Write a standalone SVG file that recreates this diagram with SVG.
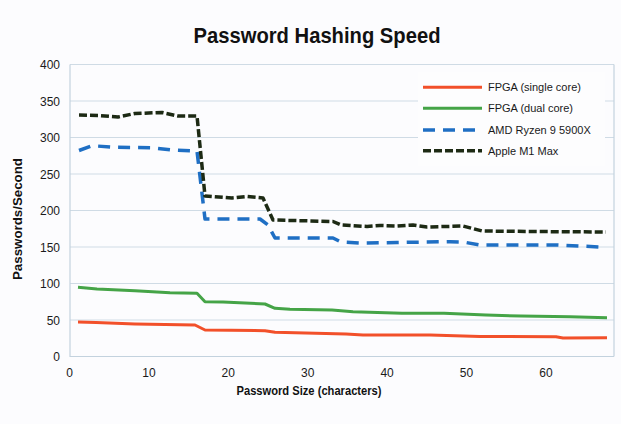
<svg xmlns="http://www.w3.org/2000/svg" width="621" height="424" viewBox="0 0 621 424">
<style>
.bg{fill:#fcfcfe}
.grid{stroke:#cfdbe5;stroke-width:1.2;fill:none}
.axis{stroke:#c3d2de;stroke-width:1.2;fill:none}
.tick{font-family:"Liberation Sans",Arial,sans-serif;font-size:12px;fill:#1a1a1a}
.ttl{font-family:"Liberation Sans",Arial,sans-serif;font-weight:bold;fill:#111}
.leg{font-family:"Liberation Sans",Arial,sans-serif;font-size:11px;fill:#1a1a1a}
.s{fill:none;stroke-linejoin:round;stroke-linecap:butt}
.red{stroke:#f2502a;stroke-width:3}
.green{stroke:#45a447;stroke-width:3}
.blue{stroke:#1f6fc4;stroke-width:3.5;stroke-dasharray:12 8}
.black{stroke:#1d2a14;stroke-width:3.5;stroke-dasharray:8 3}
</style>
<rect class="bg" x="0" y="0" width="621" height="424"/>
<text class="ttl" x="317" y="43" font-size="22.5" text-anchor="middle" textLength="247" lengthAdjust="spacingAndGlyphs">Password Hashing Speed</text>
<g id="gridlines">
<path class="grid" d="M70 64.5H614M70 101H614M70 137.5H614M70 174H614M70 210.5H614M70 247H614M70 283.5H614M70 320H614"/>
<path class="axis" d="M70 64.5V356.5H614M614 64.5V356.5"/>
</g>
<g id="y-ticks" class="tick" text-anchor="end">
<text x="60" y="69">400</text>
<text x="60" y="105.5">350</text>
<text x="60" y="142">300</text>
<text x="60" y="178.5">250</text>
<text x="60" y="215">200</text>
<text x="60" y="251.5">150</text>
<text x="60" y="288">100</text>
<text x="60" y="324.5">50</text>
<text x="60" y="361">0</text>
</g>
<g id="x-ticks" class="tick" text-anchor="middle">
<text x="69.5" y="377">0</text>
<text x="148.9" y="377">10</text>
<text x="228.3" y="377">20</text>
<text x="307.7" y="377">30</text>
<text x="387.1" y="377">40</text>
<text x="466.5" y="377">50</text>
<text x="545.9" y="377">60</text>
</g>
<text class="ttl" x="309" y="395" font-size="12" text-anchor="middle" textLength="145" lengthAdjust="spacingAndGlyphs">Password Size (characters)</text>
<text class="ttl" transform="translate(22 219) rotate(-90)" font-size="12" text-anchor="middle" textLength="122" lengthAdjust="spacingAndGlyphs">Passwords/Second</text>
<g id="series">
<polyline id="fpga-single" class="s red" points="78,322 96,322.5 135,324 195,325 205,330 265,330.7 275,332.3 346,334 363,335 430,335 480,336.5 556,336.7 563,338 607,337.7"/>
<polyline id="fpga-dual" class="s green" points="78,287.3 97,289 135,290.7 170,292.7 197,293.3 205,301.7 223,302 265,304 275,308.3 290,309.3 332,310 353,311.7 402,313.3 444,313.3 486,315 521,316 570,316.7 607,317.7"/>
<polyline id="amd" class="s blue" points="79,150.5 92,145.7 115,147.3 152,147.7 172,150 197,151 205,219 260,219 268,225 275,238 333,238 341,242 360,243 397,242.5 450,241.7 463,242 480,245 530,245 557,245 600,247"/>
<polyline id="m1" class="s black" points="79,115 98,115.5 118,117 135,113.5 162,112.5 178,116 197,116 205,196 232,198 247,196.5 263,198 273,220 333,221.5 341,225 367,226.5 380,225.5 397,226 413,225 427,227 463,226 482,231 530,231.5 606,232"/>
</g>
<g id="legend">
<rect x="418" y="72" width="187" height="94" fill="#fdfdfe"/>
<line class="s red" x1="423" y1="87.3" x2="482" y2="87.3"/>
<text class="leg" x="488" y="91.3">FPGA (single core)</text>
<line class="s green" x1="423" y1="108.3" x2="482" y2="108.3"/>
<text class="leg" x="488" y="112.3">FPGA (dual core)</text>
<line class="s blue" x1="423" y1="130" x2="482" y2="130"/>
<text class="leg" x="488" y="134">AMD Ryzen 9 5900X</text>
<line class="s black" x1="423" y1="150.7" x2="482" y2="150.7"/>
<text class="leg" x="488" y="154.7">Apple M1 Max</text>
</g>
</svg>
